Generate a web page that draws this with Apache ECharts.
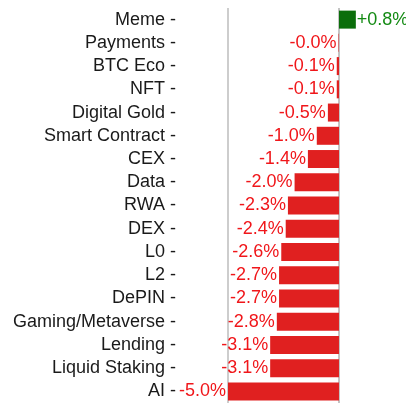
<!DOCTYPE html>
<html>
<head>
<meta charset="utf-8">
<script src="https://cdn.jsdelivr.net/npm/echarts@6/dist/echarts.min.js"></script>
<style>
  html, body { margin: 0; padding: 0; background: #fff; }
  #chart { width: 406px; height: 403px; }
</style>
</head>
<body>
<div id="chart"></div>
<script>
// sectors, top to bottom
const categories = ['Meme', 'Payments', 'BTC Eco', 'NFT', 'Digital Gold', 'Smart Contract', 'CEX', 'Data',
  'RWA', 'DEX', 'L0', 'L2', 'DePIN', 'Gaming/Metaverse', 'Lending', 'Liquid Staking', 'AI']
// % change
const changes = [0.76, -0.02, -0.1, -0.1, -0.5, -1.0, -1.4, -2.0, -2.3, -2.4, -2.6, -2.7, -2.7, -2.8, -3.1, -3.1, -5.0]

const RED_BAR = '#e02020'
const RED_TXT = '#f0161a'
const GREEN_BAR = '#0b6e0b'
const GREEN_TXT = '#138a13'

const chart = echarts.init(document.getElementById('chart'))

const option = {
  animation: false,
  textStyle: { fontFamily: 'Liberation Sans, Arial, sans-serif' },
  grid: { left: 228, right: 0, top: 8, bottom: 0 },
  xAxis: {
    type: 'value',
    min: -5,
    max: 3.02,
    interval: 5,
    axisLine: { show: false },
    axisTick: { show: false },
    axisLabel: { show: false },
    // left spine (-5) and zero line (0)
    splitLine: {
      show: true,
      lineStyle: { color: ['#bdbdbd', '#b0b0b0', 'rgba(0,0,0,0)'], width: 1.5 }
    }
  },
  yAxis: {
    type: 'category',
    data: categories,
    inverse: true,
    axisLine: { show: false },
    axisTick: { show: false },
    axisLabel: {
      interval: 0,
      fontSize: 18,
      color: '#1a1a1a',
      margin: 52,
      formatter: v => v + ' -'
    }
  },
  series: [{
    type: 'bar',
    barWidth: 18,
    data: changes.map(v => ({
      value: v,
      itemStyle: { color: v > 0 ? GREEN_BAR : RED_BAR },
      label: {
        show: true,
        position: v > 0 ? 'right' : 'left',
        distance: v > 0 ? 1 : 2,
        fontSize: 18,
        color: v > 0 ? GREEN_TXT : RED_TXT,
        formatter: () => (v > 0 ? '+' : '') + v.toFixed(1) + '%'
      }
    }))
  }]
}

chart.setOption(option)
</script>
</body>
</html>
